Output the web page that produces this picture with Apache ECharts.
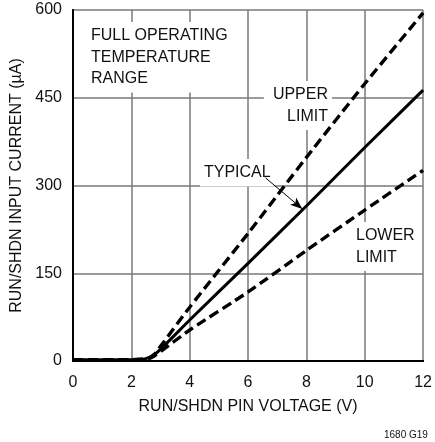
<!DOCTYPE html>
<html><head><meta charset="utf-8">
<script src="https://cdn.jsdelivr.net/npm/echarts@6/dist/echarts.min.js"></script>
<style>html,body{margin:0;padding:0;background:#fff}#c{width:435px;height:442px}</style>
</head><body><div id="c"></div>
<script>
const FONT = '"Liberation Sans",Arial,sans-serif';
const xTicks = [0, 2, 4, 6, 8, 10, 12];
const yTicks = [0, 150, 300, 450, 600];
const typical = [[0,2],[2,2],[2.3,2.5],[2.5,4],[2.7,8],[3,20],[4,70],[6,167],[8,265],[10,365],[12,463]];
const upper = [[0,2],[2,2],[2.4,3],[2.6,5],[2.8,12],[3,25],[4,92],[6,218],[8,348],[10,474],[12,595]];
const lower = [[0,2],[2,2],[2.4,3],[2.6,4],[2.8,9],[3,16],[4,53],[6,118],[8,189],[10,258],[12,326]];
const arrowFrom = [6.6, 313];
const arrowTo = [7.86, 260];

const chart = echarts.init(document.getElementById('c'), null, {renderer:'canvas'});
const lbl = (x, y, text, align, pad) => ({
  type: 'text', x: x, y: y, z: 1, zlevel: 0,
  style: {text: text, font: '16px ' + FONT, fill: '#111', backgroundColor: '#fff',
    padding: pad || [3,4,3,4], lineHeight: 21.5, align: align || 'left', verticalAlign: 'top'}
});
chart.setOption({
  animation: false,
  grid: {left: 73, right: 11, top: 10, bottom: 81},
  xAxis: [{
    type: 'value', min: 0, max: 12, interval: 2,
    axisLine: {show: true, onZero: false, lineStyle: {color: '#000', width: 2}},
    axisTick: {show: false},
    axisLabel: {margin: 14, fontFamily: FONT, fontSize: 16, color: '#111', formatter: v => xTicks.includes(v) ? String(v) : ''},
    splitLine: {show: true, lineStyle: {color: '#7a7a7a', width: 1.5}},
    name: 'RUN/SHDN PIN VOLTAGE (V)', nameLocation: 'middle', nameGap: 38,
    nameTextStyle: {fontFamily: FONT, fontSize: 16, color: '#111'}
  }, {
    type: 'value', min: 0, max: 12, position: 'top',
    axisLine: {show: true, lineStyle: {color: '#000', width: 2}},
    axisTick: {show: false}, axisLabel: {show: false}, splitLine: {show: false}
  }],
  yAxis: [{
    type: 'value', min: 0, max: 600, interval: 150,
    axisLine: {show: true, onZero: false, lineStyle: {color: '#000', width: 2}},
    axisTick: {show: false},
    axisLabel: {margin: 11, fontFamily: FONT, fontSize: 16, color: '#111', formatter: v => yTicks.includes(v) ? String(v) : ''},
    splitLine: {show: true, lineStyle: {color: '#7a7a7a', width: 1.5}},
    name: 'RUN/SHDN INPUT CURRENT (µA)', nameLocation: 'middle', nameGap: 45,
    nameTextStyle: {fontFamily: FONT, fontSize: 16, color: '#111'}
  }, {
    type: 'value', min: 0, max: 600, position: 'right',
    axisLine: {show: true, lineStyle: {color: '#000', width: 2}},
    axisTick: {show: false}, axisLabel: {show: false}, splitLine: {show: false}
  }],
  series: [
    {type: 'line', name: 'UPPER LIMIT', data: upper, showSymbol: false, smooth: 0.2, z: 5,
     lineStyle: {color: '#000', width: 3.4, type: [10, 5], cap: 'butt'}},
    {type: 'line', name: 'LOWER LIMIT', data: lower, showSymbol: false, smooth: 0.2, z: 5,
     lineStyle: {color: '#000', width: 3.4, type: [10, 5], cap: 'butt'}},
    {type: 'line', name: 'TYPICAL', data: typical, showSymbol: false, smooth: 0.2, z: 6,
     lineStyle: {color: '#000', width: 3},
     markLine: {silent: true, symbol: ['none', 'arrow'], symbolSize: [7, 12], label: {show: false},
       lineStyle: {color: '#000', width: 1, type: 'solid'},
       data: [[{coord: arrowFrom}, {coord: arrowTo}]]}}
  ],
  graphic: [
    lbl(87, 22, 'FULL OPERATING\nTEMPERATURE\nRANGE'),
    lbl(332, 81, 'UPPER\nLIMIT', 'right', [3,4,3,9]),
    lbl(200, 159, 'TYPICAL'),
    lbl(352, 222, 'LOWER\nLIMIT'),
    {type: 'text', x: 384, y: 430, z: 1, style: {text: '1680 G19', font: '10px ' + FONT, fill: '#111', verticalAlign: 'top'}}
  ]
});
</script></body></html>
